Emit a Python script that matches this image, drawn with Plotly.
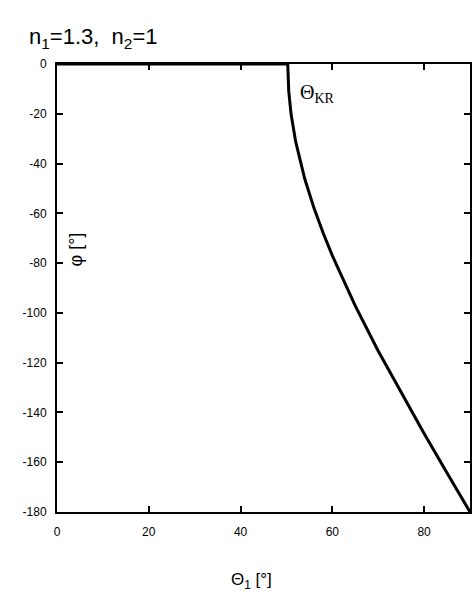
import plotly.graph_objects as go

# Phase shift of the reflected wave at total internal reflection (n1=1.3, n2=1)
theta_deg = [0, 20, 40, 50.28, 50.5, 51, 52, 54, 56, 58, 60, 65, 70, 75, 80, 85, 88, 90]
phi_deg = [0, 0, 0, 0, -10.9, -20.0, -31.1, -46.2, -57.9, -67.9, -77.0, -97.2,
           -115.3, -132.2, -148.5, -164.3, -173.7, -180]

x_ticks = [0, 20, 40, 60, 80]
y_ticks = [0, -20, -40, -60, -80, -100, -120, -140, -160, -180]

axis_font = dict(family="Liberation Sans, Arial, sans-serif", size=12, color="black")

fig = go.Figure()
fig.add_trace(go.Scatter(
    x=theta_deg, y=phi_deg, mode="lines",
    line=dict(color="black", width=3),
    hoverinfo="skip", showlegend=False,
))

fig.update_layout(
    width=473, height=603,
    margin=dict(l=57, r=1, t=64, b=91),
    paper_bgcolor="white", plot_bgcolor="white",
    showlegend=False,
    xaxis=dict(
        range=[0, 90], tickvals=x_ticks, ticktext=[str(v) for v in x_ticks],
        ticks="inside", ticklen=6, tickwidth=2, tickcolor="black",
        showline=True, linecolor="black", linewidth=2, mirror="ticks",
        showgrid=False, zeroline=False, tickfont=axis_font,
        ticklabelstandoff=8,
    ),
    yaxis=dict(
        range=[-180, 0], tickvals=y_ticks, ticktext=[str(v) for v in y_ticks],
        ticks="inside", ticklen=6, tickwidth=2, tickcolor="black",
        showline=True, linecolor="black", linewidth=2, mirror="ticks",
        showgrid=False, zeroline=False, tickfont=axis_font,
        ticklabelstandoff=6,
    ),
    annotations=[
        dict(text="n<sub>1</sub>=1.3,  n<sub>2</sub>=1", xref="paper", yref="paper",
             x=-0.072, y=1.0, xanchor="left", yanchor="bottom", yshift=10, showarrow=False,
             font=dict(family="Liberation Sans, Arial, sans-serif", size=22, color="black")),
        dict(text="Θ<sub>KR</sub>", xref="x", yref="y", x=52.5, y=-12,
             xanchor="left", yanchor="middle", showarrow=False,
             font=dict(family="Liberation Serif, Times New Roman, serif", size=20, color="black")),
        dict(text="φ [°]", xref="paper", yref="paper", x=0.045, y=0.585,
             xanchor="center", yanchor="middle", textangle=-90, showarrow=False,
             font=dict(family="Liberation Sans, Arial, sans-serif", size=18, color="black")),
        dict(text="Θ<sub>1</sub> [°]", xref="paper", yref="paper", x=0.47, y=0, yshift=-56,
             xanchor="center", yanchor="top", showarrow=False,
             font=dict(family="Liberation Sans, Arial, sans-serif", size=17, color="black")),
    ],
)

fig.write_html("out.html")
